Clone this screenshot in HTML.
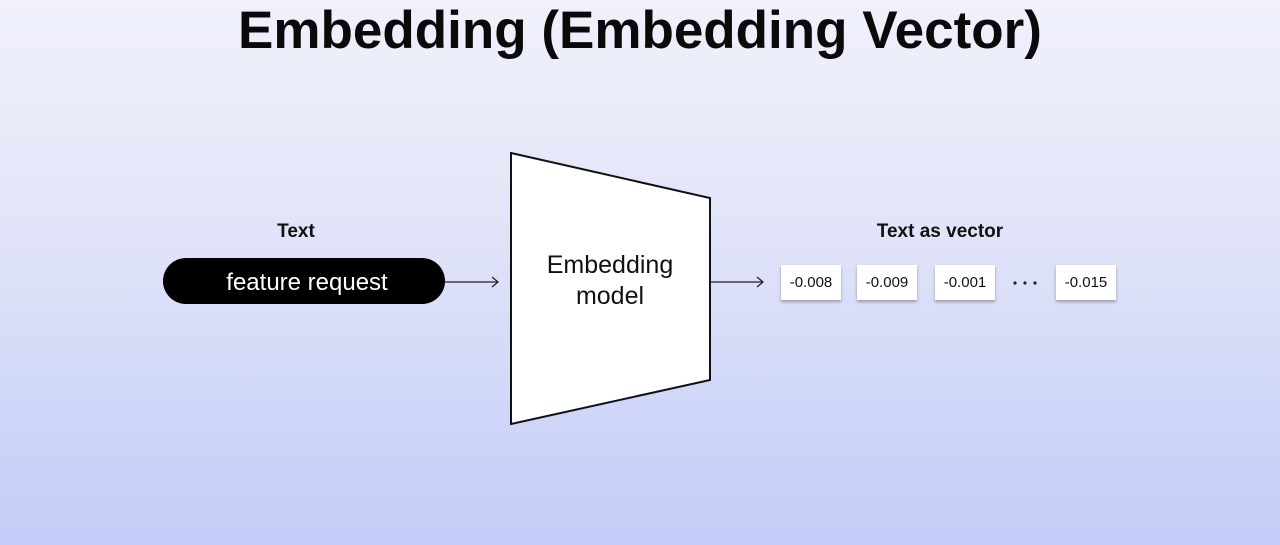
<!DOCTYPE html>
<html><head><style>
html,body{margin:0;padding:0}
body{width:1280px;height:545px;overflow:hidden;background:linear-gradient(#f0f1fb 0%,#e2e5f8 40%,#c3ccf8 100%);font-family:"Liberation Sans",sans-serif;position:relative}
.t{position:absolute;left:0;width:1280px;text-align:center;top:0px;font-size:53px;font-weight:bold;color:#0a0a0a}
.b{position:absolute;background:#fff;box-shadow:0 2px 3px rgba(0,0,0,.3);font-size:15px;color:#111;text-align:center;line-height:35px;width:60px;height:35px;top:265px}
</style></head><body>
<div class="t">Embedding (Embedding Vector)</div>
<svg width="1280" height="545" style="position:absolute;left:0;top:0">
<text x="296" y="237" text-anchor="middle" font-family="Liberation Sans" font-weight="bold" font-size="19" fill="#111">Text</text>
<rect x="163" y="258" width="282" height="46" rx="23" fill="#000"/>
<text x="307" y="290" text-anchor="middle" font-family="Liberation Sans" font-size="24" fill="#fff">feature request</text>
<line x1="445" y1="282" x2="498" y2="282" stroke="#222" stroke-width="1.3"/>
<path d="M492 277 L498 282 L492 287" fill="none" stroke="#222" stroke-width="1.3"/>
<polygon points="511,153 710,198 710,380 511,424" fill="#fff" stroke="#111" stroke-width="2"/>
<text x="610" y="273" text-anchor="middle" font-family="Liberation Sans" font-size="25" fill="#111">Embedding</text>
<text x="610" y="304" text-anchor="middle" font-family="Liberation Sans" font-size="25" fill="#111">model</text>
<line x1="710" y1="282" x2="763" y2="282" stroke="#222" stroke-width="1.3"/>
<path d="M757 277 L763 282 L757 287" fill="none" stroke="#222" stroke-width="1.3"/>
<text x="940" y="237" text-anchor="middle" font-family="Liberation Sans" font-weight="bold" font-size="19" fill="#111">Text as vector</text>
<circle cx="1015" cy="283" r="1.6" fill="#222"/>
<circle cx="1025" cy="283" r="1.6" fill="#222"/>
<circle cx="1035" cy="283" r="1.6" fill="#222"/>
</svg>
<div class="b" style="left:781px">-0.008</div>
<div class="b" style="left:857px">-0.009</div>
<div class="b" style="left:935px">-0.001</div>
<div class="b" style="left:1056px">-0.015</div>
</body></html>
